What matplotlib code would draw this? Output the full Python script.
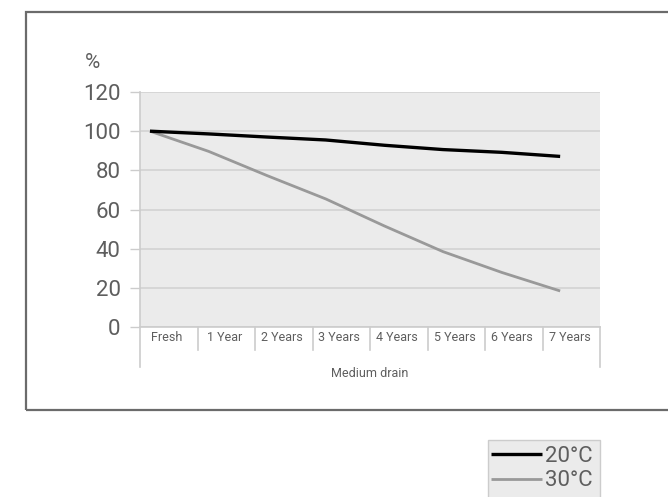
import matplotlib
matplotlib.use("Agg")
import matplotlib.pyplot as plt
from matplotlib.patches import Rectangle

categories = ["Fresh", "1 Year", "2 Years", "3 Years", "4 Years", "5 Years", "6 Years", "7 Years"]
series_20 = [100, 98.6, 97.0, 95.5, 92.8, 90.6, 89.2, 87.1]
series_30 = [100, 89.7, 77.3, 65.4, 51.6, 38.5, 27.9, 18.4]
y_ticks = [0, 20, 40, 60, 80, 100, 120]
x_title = "Medium drain"
y_unit = "%"
legend_labels = ["20°C", "30°C"]

FONT = ["Roboto", "DejaVu Sans"]
TXT = "#5e5e5e"
W, H = 668, 497
fig = plt.figure(figsize=(W / 100, H / 100), dpi=100)
fig.patch.set_facecolor("white")

# outer frame
fig.add_artist(Rectangle((26 / W, 1 - 410 / H), 700 / W, (410 - 12) / H,
                         transform=fig.transFigure, fill=False,
                         edgecolor="#6b6b6b", linewidth=1.6))

ax = fig.add_axes([140 / W, 1 - 327 / H, 460 / W, 235 / H])
ax.set_facecolor("#ebebeb")
ax.set_ylim(0, 120)
ax.set_xlim(-0.17, 7.68)
ax.set_yticks(y_ticks)
ax.set_yticklabels([str(v) for v in y_ticks], fontfamily=FONT, fontsize=16, color=TXT)
ax.tick_params(axis="y", length=7, width=1, color="#cccccc", pad=7)
ax.set_xticks([])
for s in ["top", "right"]:
    ax.spines[s].set_visible(False)
ax.spines["left"].set_color("#cccccc")
ax.spines["bottom"].set_color("#cccccc")
ax.spines["left"].set_linewidth(1.2)
ax.spines["bottom"].set_linewidth(1.2)
ax.grid(axis="y", color="#d2d2d2", linewidth=1.2)
ax.set_axisbelow(True)

xs = list(range(len(categories)))
l1, = ax.plot(xs, series_20, color="#000000", linewidth=2.4, solid_capstyle="butt", zorder=3)
l2, = ax.plot(xs, series_30, color="#999999", linewidth=2.0, solid_capstyle="butt", zorder=2)

# category bands, labels and dividers
n = len(categories)
for k in range(n + 1):
    bottom = -0.17 if k in (0, n) else -0.098
    ax.plot([k / n, k / n], [0, bottom], transform=ax.transAxes, color="#cccccc",
            linewidth=1.2, clip_on=False)
for k, c in enumerate(categories):
    ax.text((k + 0.5) / n - 0.004, -0.045, c, transform=ax.transAxes, ha="center", va="center",
            fontsize=9, color=TXT, fontfamily=FONT)
ax.text(0.5, -0.196, x_title, transform=ax.transAxes, ha="center", va="center",
        fontsize=9, color=TXT, fontfamily=FONT)

fig.text(93 / W, 1 - 62 / H, y_unit, ha="center", va="center", fontsize=15,
         color=TXT, fontfamily=FONT)

# legend frame (extends past the bottom edge)
fig.add_artist(Rectangle((488 / W, -0.02), 112 / W, 1 - 440 / H + 0.02,
                         transform=fig.transFigure, facecolor="#ebebeb",
                         edgecolor="#cccccc", linewidth=1.0, zorder=0))
leg = fig.legend([l1, l2], legend_labels, loc="upper left",
                 bbox_to_anchor=(491 / W, 1 - 446 / H), bbox_transform=fig.transFigure,
                 frameon=False,
                 prop={"family": FONT, "size": 16},
                 handlelength=2.3, handletextpad=0.15,
                 borderpad=0.0, labelspacing=0.15, borderaxespad=0)
for t in leg.get_texts():
    t.set_color(TXT)

fig.savefig("out.png", dpi=100)
